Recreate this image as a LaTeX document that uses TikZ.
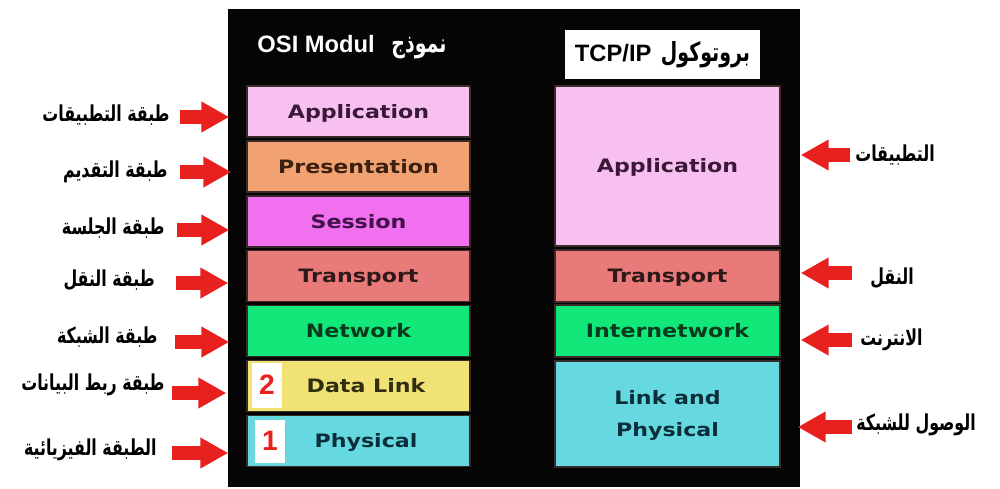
\documentclass[tikz,border=0pt]{standalone}
\usepackage{fontspec}
\setmainfont{DejaVu Sans}
\newfontfamily\arabicfont[Script=Arabic,FakeStretch=0.72]{DejaVu Sans}
\newfontfamily\headfont{Liberation Sans}
\newfontfamily\layerfont[FakeStretch=1.2]{DejaVu Sans}
\TeXXeTstate=1
\usepackage{tikz}
\usetikzlibrary{arrows.meta,positioning,calc}
\definecolor{cPanel}{HTML}{050505}
\definecolor{cEdge}{HTML}{3A2A2A}
\definecolor{cRed}{HTML}{E8201E}
\definecolor{cPink}{HTML}{F8C0F0}
\definecolor{cOrange}{HTML}{F2A272}
\definecolor{cMagenta}{HTML}{F070F0}
\definecolor{cSalmon}{HTML}{E87A7A}
\definecolor{cGreen}{HTML}{12E87A}
\definecolor{cYellow}{HTML}{F0E274}
\definecolor{cCyan}{HTML}{66D8E0}
\definecolor{cPinkInk}{HTML}{3A1838}
\definecolor{cOrangeInk}{HTML}{3A2010}
\definecolor{cMagInk}{HTML}{401048}
\definecolor{cSalInk}{HTML}{301818}
\definecolor{cGreenInk}{HTML}{0A3A1E}
\definecolor{cYelInk}{HTML}{302E10}
\definecolor{cCyanInk}{HTML}{0A2E3A}
\tikzset{
  layer/.style={draw=cEdge,fill=#1,line width=0.8pt,minimum width=4.46cm,minimum height=1.02cm,inner sep=2pt,align=center,text height=7.7pt,text depth=0pt,font=\layerfont\bfseries\fontsize{10.5}{18}\selectfont},
  tlayer/.style={layer=#1,minimum width=4.5cm},
  numbox/.style={fill=white,minimum width=0.6cm,minimum height=0.9cm,inner sep=0pt,text=cRed,font=\headfont\bfseries\fontsize{16}{16}\selectfont},
  albl/.style={inner sep=0pt,font=\arabicfont\bfseries\fontsize{12.5}{14}\selectfont},
  head/.style={inner sep=0pt,text=white,font=\headfont\bfseries\fontsize{13.5}{16}\selectfont},
  tbox/.style={fill=white,minimum width=3.9cm,minimum height=0.98cm,inner sep=0pt,font=\headfont\bfseries\fontsize{13.5}{16}\selectfont},
  redarr/.style={line width=0.28cm,color=cRed,-{Triangle[length=0.56cm,width=0.58cm]}},
}

\begin{document}
\begin{tikzpicture}[x=0.02cm,y=-0.02cm]
  \useasboundingbox (0,0) rectangle (1000,488);
  \fill[cPanel] (228,9) rectangle (800,487);
  % titles
  \node[head] (osiT) at (352,47) {OSI Modul\hspace{0.7em}{\arabicfont\fontsize{15}{16}\selectfont\beginR نموذج\endR}};
  \node[tbox] (tcpT) at (662.5,54.5) {TCP/IP\hspace{0.4em}{\arabicfont\fontsize{15}{16}\selectfont\beginR بروتوكول\endR}};
  % OSI layers
  \node[layer=cPink,text=cPinkInk] (app) at (358.5,111.5) {Application};
  \node[layer=cOrange,text=cOrangeInk] (pres) at (358.5,166.4) {Presentation};
  \node[layer=cMagenta,text=cMagInk] (sess) at (358.5,221.3) {Session};
  \node[layer=cSalmon,text=cSalInk] (trans) at (358.5,276.2) {Transport};
  \node[layer=cGreen,text=cGreenInk] (net) at (358.5,331.1) {Network};
  \node[layer=cYellow,text=cYelInk] (dl) at (358.5,386) {\hspace{0.3cm}Data Link};
  \node[layer=cCyan,text=cCyanInk] (phys) at (358.5,440.9) {\hspace{0.3cm}Physical};
  \node[numbox] (n2) at (267,385) {2};
  \node[numbox,minimum height=0.86cm] (n1) at (270,441) {1};
  % TCP/IP layers
  \node[tlayer=cPink,text=cPinkInk,minimum height=3.2cm] (tapp) at (667.5,166) {Application};
  \node[tlayer=cSalmon,text=cSalInk,minimum height=1.04cm] (ttrans) at (667.5,276) {Transport};
  \node[tlayer=cGreen,text=cGreenInk,minimum height=1.04cm] (tnet) at (667.5,331) {Internetwork};
  \node[tlayer=cCyan,text=cCyanInk,minimum height=2.12cm,text height=25.7pt] (tlink) at (667.5,414) {Link and\\Physical};
  % left labels
  \node[albl,anchor=east] (lapp) at (170,115) {\beginR طبقة التطبيقات\endR};
  \node[albl,anchor=east] (lpres) at (168,172) {\beginR طبقة التقديم\endR};
  \node[albl,anchor=east] (lsess) at (165,228) {\beginR طبقة الجلسة\endR};
  \node[albl,anchor=east] (ltrans) at (155,280) {\beginR طبقة النقل\endR};
  \node[albl,anchor=east] (lnet) at (158,337) {\beginR طبقة الشبكة\endR};
  \node[albl,anchor=east] (ldl) at (165,385) {\beginR طبقة ربط البيانات\endR};
  \node[albl,anchor=east] (lphys) at (157,450) {\beginR الطبقة الفيزيائية\endR};
  % right labels
  \node[albl,anchor=west] (rapp) at (855,155) {\beginR التطبيقات\endR};
  \node[albl,anchor=west] (rtrans) at (870,278) {\beginR النقل\endR};
  \node[albl,anchor=west] (rnet) at (860,340) {\beginR الانترنت\endR};
  \node[albl,anchor=west] (rlink) at (856,425) {\beginR الوصول للشبكة\endR};
  % arrow tails
  \coordinate (a1) at (180,117);
  \coordinate (a2) at (180,172);
  \coordinate (a3) at (177,230);
  \coordinate (a4) at (176,283);
  \coordinate (a5) at (175,342);
  \coordinate (a6) at (172,393);
  \coordinate (a7) at (172,453);
  \coordinate (b1) at (850,155);
  \coordinate (b2) at (852,273);
  \coordinate (b3) at (852,340);
  \coordinate (b4) at (852,427);
  \draw[redarr,shorten >=0.34cm] (a1) -- (a1 -| app.west);
  \draw[redarr,shorten >=0.30cm] (a2) -- (a2 -| pres.west);
  \draw[redarr,shorten >=0.34cm] (a3) -- (a3 -| sess.west);
  \draw[redarr,shorten >=0.36cm] (a4) -- (a4 -| trans.west);
  \draw[redarr,shorten >=0.34cm] (a5) -- (a5 -| net.west);
  \draw[redarr,shorten >=0.40cm] (a6) -- (a6 -| dl.west);
  \draw[redarr,shorten >=0.36cm] (a7) -- (a7 -| phys.west);
  \draw[redarr,shorten >=0.40cm] (b1) -- (b1 -| tapp.east);
  \draw[redarr,shorten >=0.40cm] (b2) -- (b2 -| ttrans.east);
  \draw[redarr,shorten >=0.40cm] (b3) -- (b3 -| tnet.east);
  \draw[redarr,shorten >=0.34cm] (b4) -- (b4 -| tlink.east);
\end{tikzpicture}
\end{document}
